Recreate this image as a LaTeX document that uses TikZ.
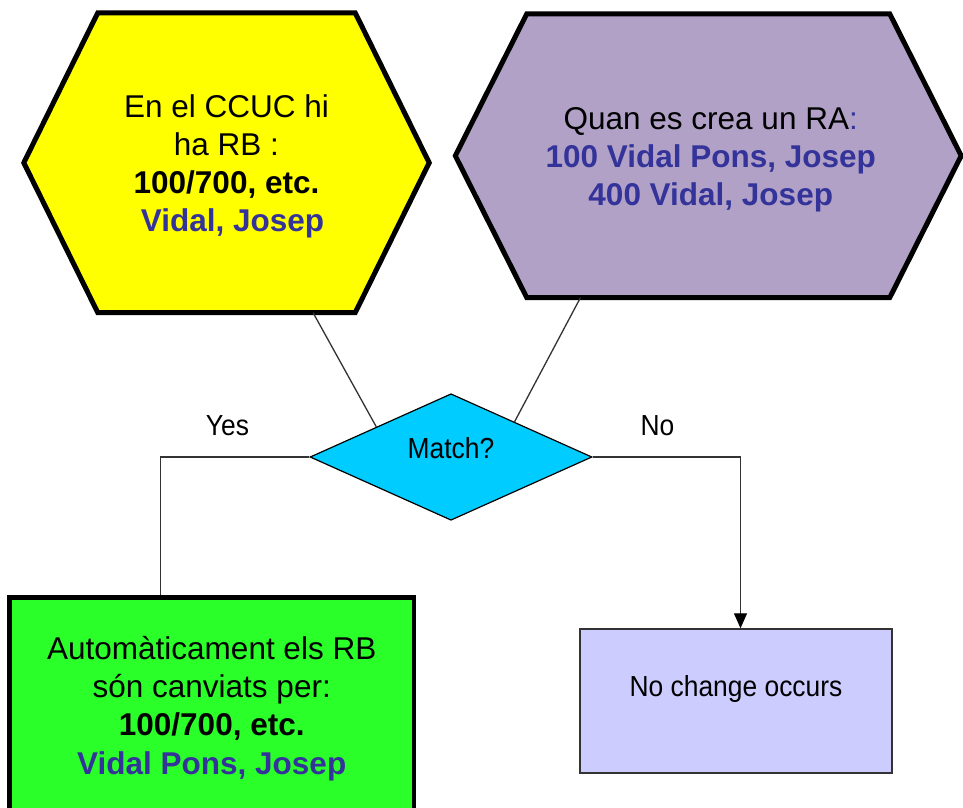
\documentclass[tikz,border=0pt]{standalone}
\usepackage{fontspec}
\setmainfont{Liberation Sans}
\newfontfamily\chartfont[FakeStretch=0.91]{Liberation Sans}
\usetikzlibrary{backgrounds,shapes.geometric,arrows.meta}
\definecolor{ccucyellow}{HTML}{FFFF00}
\definecolor{ralilac}{HTML}{B1A1C7}
\definecolor{matchcyan}{HTML}{00CCFF}
\definecolor{rbgreen}{HTML}{2AFF2A}
\definecolor{nochangeblue}{HTML}{CCCCFF}
\definecolor{nameblue}{HTML}{333399}

\begin{document}
\begin{tikzpicture}[x=1pt, y=-1pt,
    every node/.style={font=\fontsize{31.5}{38.3}\selectfont, align=center, inner sep=0pt},
    hexframe/.style={draw=black, line width=5pt},
    chartlabel/.style={font=\chartfont\fontsize{29}{34}\selectfont},
    link/.style={draw=black!80, line width=1.3pt}]
    \useasboundingbox (0,0) rectangle (963,807);
    % nodes
    \node (ccuc) [rectangle, minimum width=405pt, minimum height=299.5pt] at (226.5,162.75)
        {\rule{0pt}{30pt}En el CCUC hi\\ ha RB :\\ \textbf{100/700, etc.}\\ \hspace*{12pt}\textbf{\color{nameblue}Vidal, Josep}};
    \node (ra) [rectangle, minimum width=505.5pt, minimum height=283.5pt] at (708.25,155.75)
        {\rule{0pt}{30pt}\hspace*{5pt}Quan es crea un RA{\color{nameblue}:}\\ \hspace*{5pt}\textbf{\color{nameblue}100 Vidal Pons, Josep}\\ \hspace*{5pt}\textbf{\color{nameblue}400 Vidal, Josep}};
    \node (match) [diamond, draw, fill=matchcyan, line width=1.2pt, minimum width=282pt, minimum height=116pt,
        chartlabel, text height=21pt, text depth=19pt] at (451,457) {Match?};
    \node (rbnew) [rectangle, draw, fill=rbgreen, line width=4.5pt, minimum width=404.5pt, minimum height=216pt] at (211.75,705.5)
        {\rule{0pt}{29pt}Automàticament els RB\\ són canviats per:\\ \textbf{100/700, etc.}\\ \textbf{\color{nameblue}Vidal Pons, Josep}};
    \node (nochange) [rectangle, draw=black!80, fill=nochangeblue, line width=1.5pt, minimum width=312pt, minimum height=144pt,
        chartlabel, text height=21pt, text depth=31pt] at (736,701) {No change occurs};
    \node (yes) [chartlabel, anchor=base] at (227.5,435) {Yes};
    \node (no) [chartlabel, anchor=base] at (657.5,435) {No};
    \coordinate (yesturn) at (160.5,457);
    \coordinate (noturn) at (740.5,457);
    % hexagons behind the text
    \begin{scope}[on background layer]
        \fill [white] (0,0) rectangle (963,807);
        \filldraw [hexframe, fill=ccucyellow] (ccuc.west) -- ([xshift=74pt]ccuc.north west) -- ([xshift=-74pt]ccuc.north east)
            -- (ccuc.east) -- ([xshift=-74pt]ccuc.south east) -- ([xshift=74pt]ccuc.south west) -- cycle;
        \filldraw [hexframe, fill=ralilac] (ra.west) -- ([xshift=71.5pt]ra.north west) -- ([xshift=-71.5pt]ra.north east)
            -- (ra.east) -- ([xshift=-71.5pt]ra.south east) -- ([xshift=71.5pt]ra.south west) -- cycle;
    \end{scope}
    % connectors
    \draw[link] (ccuc.-60.9) -- (match.158);
    \draw[link] (ra.-132.4) -- (match.29);
    \draw[link] (match.west) -- (yesturn) -- (yesturn |- rbnew.north);
    \draw[link, -{Triangle[length=15pt, width=13pt, color=black]}] (match.east) -- (noturn) -- (noturn |- nochange.north);
\end{tikzpicture}
\end{document}
